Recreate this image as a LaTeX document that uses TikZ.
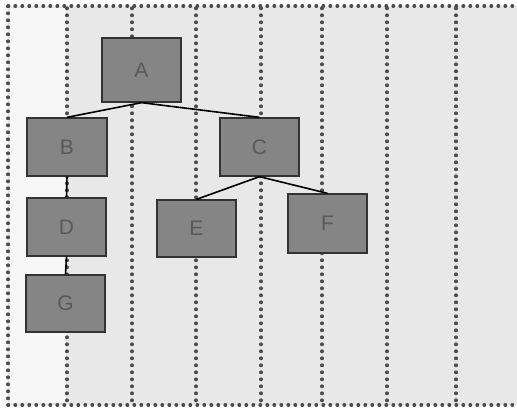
\documentclass[tikz,border=0pt]{standalone}
\usepackage{fontspec}
\setmainfont{Liberation Sans}
\begin{document}
\begin{tikzpicture}[x=1pt,y=-1pt,
  grid/.style={draw=black!70, line width=3.3pt, dash pattern=on 0.6pt off 6.4pt, line cap=round},
  box/.style={draw=black!80, line width=1.3pt, fill=black!48, minimum width=79pt, inner sep=0pt,
    font=\fontsize{21}{21}\selectfont, text=black!65},
  link/.style={draw=black, line width=1.6pt}]
\useasboundingbox (0,0) rectangle (517,412);
\fill[black!9] (8,6) rectangle (517,405);
\fill[black!3] (10,8) rectangle (66,403);
% vertical dotted lines
\foreach \xx in {67,132,196,261,322,387,456}
  \draw[grid] (\xx,8) -- (\xx,403);
% outer frame
\draw[grid] (8,6) -- (517,6);
\draw[grid] (8,405) -- (517,405);
\draw[grid] (8,6) -- (8,405);
% nodes
\node[box, minimum height=64pt] (A) at (141.5,70) {A};
\node[box, minimum height=58pt, minimum width=80pt] (B) at (67,147) {B};
\node[box, minimum height=58pt] (C) at (259.5,147) {C};
\node[box, minimum height=58pt] (D) at (66.5,227) {D};
\node[box, minimum height=57pt] (E) at (196.5,228.5) {E};
\node[box, minimum height=59pt] (F) at (327.5,223.5) {F};
\node[box, minimum height=57pt] (G) at (65.5,303.5) {G};
% connectors
\draw[link] (A.south) -- (B.north);
\draw[link] (A.south) -- (C.north);
\draw[link] (C.south) -- (E.north);
\draw[link] (C.south) -- (F.north);
\draw[link] (B.south) -- (D.north);
\draw[link] (D.south) -- (G.north);
\end{tikzpicture}
\end{document}
